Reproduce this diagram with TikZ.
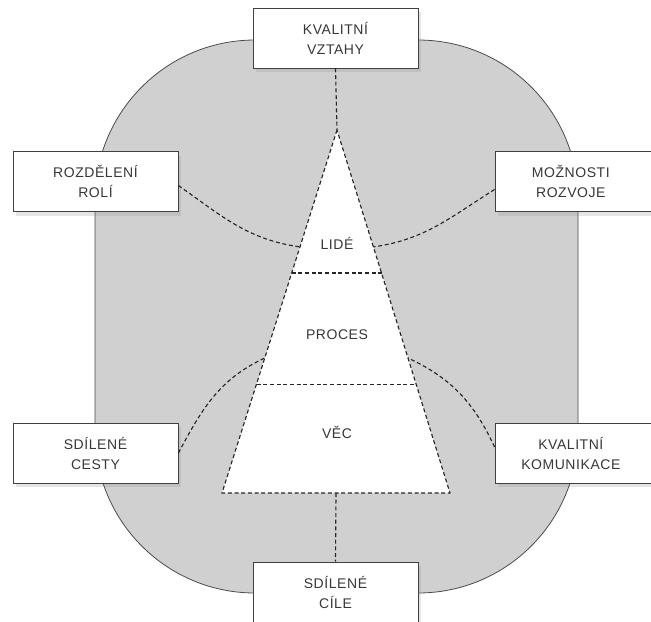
\documentclass[tikz,border=0pt]{standalone}
\usepackage{fontspec}
\setmainfont{Liberation Sans}[LetterSpace=4]
\usetikzlibrary{calc,shadows}

\definecolor{fieldgray}{RGB}{208,208,208}
\definecolor{textgray}{RGB}{55,55,55}

\tikzset{
  field/.style={draw=black!70, fill=fieldgray, line width=0.6pt, rounded corners=120pt},
  valuebox/.style={draw=black!75, fill=white, line width=0.6pt,
    minimum width=123.75pt, minimum height=45pt, inner sep=0pt, align=center,
    font=\fontsize{10.5}{15}\selectfont, text=textgray,
    drop shadow={shadow xshift=2pt, shadow yshift=-3pt, opacity=0.2}},
  link/.style={dash pattern=on 3pt off 2pt, line width=0.85pt, black!85},
  level/.style={font=\fontsize{10.5}{15}\selectfont, text=textgray}
}

\begin{document}
\begin{tikzpicture}[x=0.75pt,y=-0.75pt]
	\clip (0,0) rectangle (651,622);
	\fill[white] (0,0) rectangle (651,622);
	\draw[field] (95,40) rectangle (578,593);
	% triangle
	\coordinate (apex) at (337,130);
	\coordinate (bl) at (222,493);
	\coordinate (br) at (450,493);
	\coordinate (basemid) at ($(bl)!0.5!(br)$);
	\fill[white] (apex) -- (bl) -- (br) -- cycle;
	\draw[link] (apex) -- (bl) -- (br) -- cycle;
	\draw[link] ($(apex)!0.394!(bl)$) -- ($(apex)!0.394!(br)$);
	\draw[link] ($(apex)!0.70!(bl)$) -- ($(apex)!0.70!(br)$);
	\node[level] (lide) at (337,243) {LIDÉ};
	\node[level] (proces) at (337,335) {PROCES};
	\node[level] (vec) at (337,432) {VĚC};
	% boxes
	\node[valuebox] (vztahy) at (335.5,38) {KVALITNÍ\\VZTAHY};
	\node[valuebox] (role) at (95.5,181.5) {ROZDĚLENÍ\\ROLÍ};
	\node[valuebox] (rozvoj) at (577.5,181.5) {\hspace*{-10pt}MOŽNOSTI\\\hspace*{-10pt}ROZVOJE};
	\node[valuebox] (cesty) at (95.5,453) {SDÍLENÉ\\CESTY};
	\node[valuebox] (komunikace) at (577.5,453) {\hspace*{-10pt}KVALITNÍ\\\hspace*{-10pt}KOMUNIKACE};
	\node[valuebox] (cile) at (335.5,592) {SDÍLENÉ\\CÍLE};
	% connectors
	\draw[link] (vztahy.south) -- (apex);
	\draw[link] (basemid) -- (cile.north);
	\draw[link] ($(role.east)+(0,4)$) to[out=-35,in=172] ($(apex)!0.322!(bl)$);
	\draw[link] ($(rozvoj.west)+(0,8)$) to[out=212,in=8] ($(apex)!0.322!(br)$);
	\draw[link] (cesty.east) to[out=62,in=205] ($(apex)!0.628!(bl)$);
	\draw[link] ($(komunikace.west)+(0,-6)$) to[out=115,in=-25] ($(apex)!0.628!(br)$);
\end{tikzpicture}
\end{document}
